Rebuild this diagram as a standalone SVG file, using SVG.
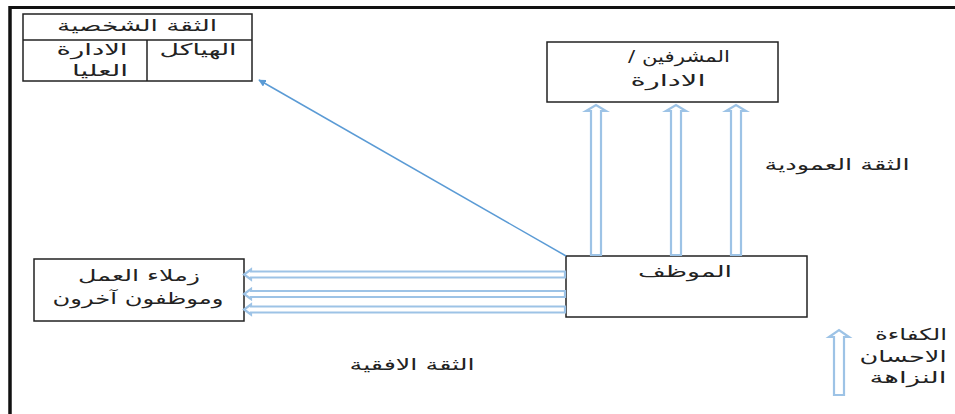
<svg xmlns="http://www.w3.org/2000/svg" width="955" height="414" viewBox="0 0 955 414">
<style>
.box{fill:#fff;stroke:#222;stroke-width:1.5}
.t{font-family:"DejaVu Sans","Liberation Sans",sans-serif;font-size:16px;fill:#222;text-anchor:middle}
.ha{fill:#fff;stroke:#9DC3E6;stroke-width:2.2;stroke-linejoin:miter}
</style>
<defs>
<marker id="ah" viewBox="0 0 10 10" refX="9" refY="5" markerWidth="5" markerHeight="5" orient="auto">
<path d="M0,0 L10,5 L0,10 z" fill="#5B9BD5"/>
</marker>
</defs>
<rect width="955" height="414" fill="#fff"/>
<g id="frame">
<line x1="10" y1="7.5" x2="955" y2="7.5" stroke="#111" stroke-width="3"/>
<line x1="10" y1="6" x2="10" y2="414" stroke="#111" stroke-width="3.5"/>
</g>
<g id="personal-trust">
<rect class="box" x="23" y="14" width="229" height="67"/>
<line x1="23" y1="40" x2="252" y2="40" stroke="#222" stroke-width="1.5"/>
<line x1="147" y1="40" x2="147" y2="81" stroke="#222" stroke-width="1.5"/>
<text class="t" x="137" y="31" direction="rtl" textLength="160" lengthAdjust="spacingAndGlyphs">الثقة الشخصية</text>
<text class="t" x="198" y="55" direction="rtl" textLength="77" lengthAdjust="spacingAndGlyphs">الهياكل</text>
<text class="t" x="92" y="55" direction="rtl" textLength="71" lengthAdjust="spacingAndGlyphs">الادارة</text>
<text class="t" x="100" y="76" direction="rtl" textLength="56" lengthAdjust="spacingAndGlyphs">العليا</text>
</g>
<g id="supervisors">
<rect class="box" x="547" y="42" width="231" height="60"/>
<text class="t" x="679" y="62" direction="rtl" textLength="102" lengthAdjust="spacingAndGlyphs">المشرفين /</text>
<text class="t" x="668" y="86" direction="rtl" textLength="75" lengthAdjust="spacingAndGlyphs">الادارة</text>
</g>
<g id="employee">
<rect class="box" x="566" y="256" width="241" height="61"/>
<text class="t" x="685" y="277" direction="rtl" textLength="94" lengthAdjust="spacingAndGlyphs">الموظف</text>
</g>
<g id="colleagues">
<rect class="box" x="34" y="259" width="210" height="62"/>
<text class="t" x="139" y="281" direction="rtl" textLength="122" lengthAdjust="spacingAndGlyphs">زملاء العمل</text>
<text class="t" x="138" y="304" direction="rtl" textLength="171" lengthAdjust="spacingAndGlyphs">وموظفون آخرون</text>
</g>
<g id="connectors">
<line x1="566" y1="256" x2="259" y2="80" stroke="#5B9BD5" stroke-width="1.5" marker-end="url(#ah)"/>
<polygon class="ha" points="591,255 591,111 586,111 596,105 606,111 601,111 601,255"/>
<polygon class="ha" points="671,255 671,111 666,111 676,105 686,111 681,111 681,255"/>
<polygon class="ha" points="731,255 731,111 726,111 736,105 746,111 741,111 741,255"/>
<polygon class="ha" points="565,271.5 251,271.5 251,269.5 244,274.5 251,279.5 251,277.5 565,277.5"/>
<polygon class="ha" points="565,291 251,291 251,289 244,294 251,299 251,297 565,297"/>
<polygon class="ha" points="565,306.5 251,306.5 251,304.5 244,309.5 251,314.5 251,312.5 565,312.5"/>
</g>
<g id="labels">
<text class="t" x="837" y="170" direction="rtl" textLength="145" lengthAdjust="spacingAndGlyphs">الثقة العمودية</text>
<text class="t" x="412" y="370" direction="rtl" textLength="125" lengthAdjust="spacingAndGlyphs">الثقة الافقية</text>
</g>
<g id="legend">
<polygon class="ha" points="834,395 834,337 829,337 839,330 849,337 844,337 844,395"/>
<text class="t" x="911" y="340" direction="rtl" textLength="72" lengthAdjust="spacingAndGlyphs">الكفاءة</text>
<text class="t" x="903" y="362" direction="rtl" textLength="87" lengthAdjust="spacingAndGlyphs">الاحسان</text>
<text class="t" x="908" y="383" direction="rtl" textLength="77" lengthAdjust="spacingAndGlyphs">النزاهة</text>
</g>
</svg>
